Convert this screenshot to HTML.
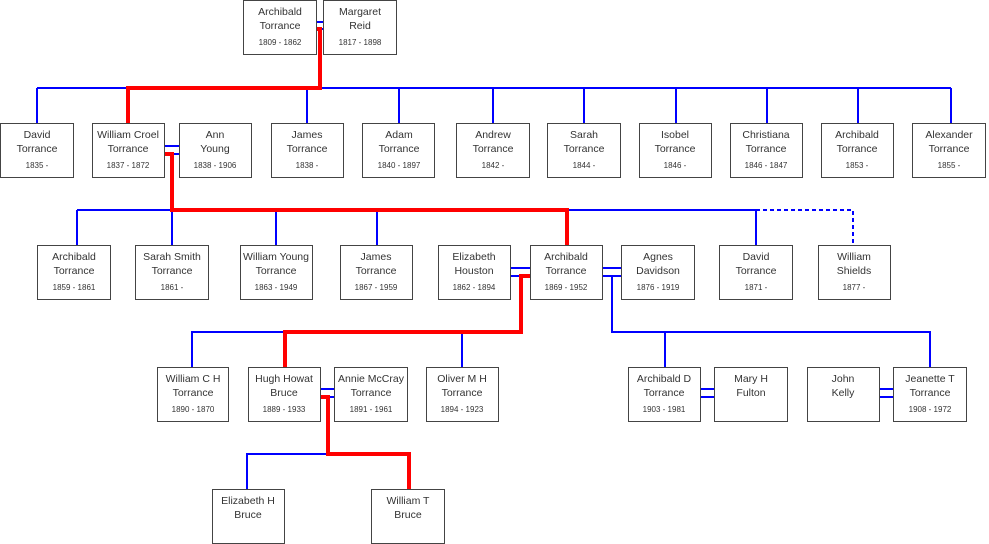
<!DOCTYPE html>
<html>
<head>
<meta charset="utf-8">
<style>
  html,body{margin:0;padding:0;background:#fff;}
  svg{display:block;}
  .b{fill:#fff;stroke:#444;stroke-width:1;}
  .n{font-family:"Liberation Sans",sans-serif;font-size:10.5px;fill:#333;text-anchor:middle;}
  .d{font-family:"Liberation Sans",sans-serif;font-size:8px;fill:#333;text-anchor:middle;}
  .bl{stroke:#0000ff;stroke-width:2;fill:none;}
  .rd{stroke:#ff0000;stroke-width:4;fill:none;}
</style>
</head>
<body>
<svg width="989" height="544" viewBox="0 0 989 544" xmlns="http://www.w3.org/2000/svg">
  <!-- blue connectors -->
  <g class="bl">
    <path d="M316 22H323M316 29H323"/>
    <path d="M37 88H951"/>
    <path d="M37 88V123M307 88V123M399 88V123M493 88V123M584 88V123M676 88V123M767 88V123M858 88V123M951 88V123"/>
    <path d="M164 146H179M164 154H179"/>
    <path d="M77 210H756"/>
    <path d="M77 210V245M172 210V245M276 210V245M377 210V245M756 210V245"/>
    <path d="M756 210H853V245" stroke-dasharray="4 3"/>
    <path d="M510 268H530M510 276H530"/>
    <path d="M602 268H621M602 276H621"/>
    <path d="M612 276V332H930V367M665 332V367"/>
    <path d="M192 367V332H462V367"/>
    <path d="M321 389H334M321 397H334"/>
    <path d="M247 489V454H328"/>
    <path d="M701 389H714M701 397H714"/>
    <path d="M879 389H893M879 397H893"/>
  </g>
  <!-- red lineage -->
  <g class="rd">
    <path d="M317 29H320V88H128V123"/>
    <path d="M165 154H172V210H567V245"/>
    <path d="M530 276H521V332H285V367"/>
    <path d="M321 397H328V454H409V489"/>
  </g>

  <!-- Row 1 -->
  <rect class="b" x="243.5" y="0.5" width="73" height="54"/>
  <text class="n" x="280" y="15">Archibald</text><text class="n" x="280" y="29">Torrance</text><text class="d" x="280" y="45">1809 - 1862</text>
  <rect class="b" x="323.5" y="0.5" width="73" height="54"/>
  <text class="n" x="360" y="15">Margaret</text><text class="n" x="360" y="29">Reid</text><text class="d" x="360" y="45">1817 - 1898</text>

  <!-- Row 2 -->
  <rect class="b" x="0.5" y="123.5" width="73" height="54"/>
  <text class="n" x="37" y="138">David</text><text class="n" x="37" y="152">Torrance</text><text class="d" x="37" y="168">1835 -</text>
  <rect class="b" x="92.5" y="123.5" width="72" height="54"/>
  <text class="n" x="128" y="138">William Croel</text><text class="n" x="128" y="152">Torrance</text><text class="d" x="128" y="168">1837 - 1872</text>
  <rect class="b" x="179.5" y="123.5" width="72" height="54"/>
  <text class="n" x="215" y="138">Ann</text><text class="n" x="215" y="152">Young</text><text class="d" x="215" y="168">1838 - 1906</text>
  <rect class="b" x="271.5" y="123.5" width="72" height="54"/>
  <text class="n" x="307" y="138">James</text><text class="n" x="307" y="152">Torrance</text><text class="d" x="307" y="168">1838 -</text>
  <rect class="b" x="362.5" y="123.5" width="72" height="54"/>
  <text class="n" x="399" y="138">Adam</text><text class="n" x="399" y="152">Torrance</text><text class="d" x="399" y="168">1840 - 1897</text>
  <rect class="b" x="456.5" y="123.5" width="73" height="54"/>
  <text class="n" x="493" y="138">Andrew</text><text class="n" x="493" y="152">Torrance</text><text class="d" x="493" y="168">1842 -</text>
  <rect class="b" x="547.5" y="123.5" width="73" height="54"/>
  <text class="n" x="584" y="138">Sarah</text><text class="n" x="584" y="152">Torrance</text><text class="d" x="584" y="168">1844 -</text>
  <rect class="b" x="639.5" y="123.5" width="72" height="54"/>
  <text class="n" x="675" y="138">Isobel</text><text class="n" x="675" y="152">Torrance</text><text class="d" x="675" y="168">1846 -</text>
  <rect class="b" x="730.5" y="123.5" width="72" height="54"/>
  <text class="n" x="766" y="138">Christiana</text><text class="n" x="766" y="152">Torrance</text><text class="d" x="766" y="168">1846 - 1847</text>
  <rect class="b" x="821.5" y="123.5" width="72" height="54"/>
  <text class="n" x="857" y="138">Archibald</text><text class="n" x="857" y="152">Torrance</text><text class="d" x="857" y="168">1853 -</text>
  <rect class="b" x="912.5" y="123.5" width="73" height="54"/>
  <text class="n" x="949" y="138">Alexander</text><text class="n" x="949" y="152">Torrance</text><text class="d" x="949" y="168">1855 -</text>

  <!-- Row 3 -->
  <rect class="b" x="37.5" y="245.5" width="73" height="54"/>
  <text class="n" x="74" y="260">Archibald</text><text class="n" x="74" y="274">Torrance</text><text class="d" x="74" y="290">1859 - 1861</text>
  <rect class="b" x="135.5" y="245.5" width="73" height="54"/>
  <text class="n" x="172" y="260">Sarah Smith</text><text class="n" x="172" y="274">Torrance</text><text class="d" x="172" y="290">1861 -</text>
  <rect class="b" x="240.5" y="245.5" width="72" height="54"/>
  <text class="n" x="276" y="260">William Young</text><text class="n" x="276" y="274">Torrance</text><text class="d" x="276" y="290">1863 - 1949</text>
  <rect class="b" x="340.5" y="245.5" width="72" height="54"/>
  <text class="n" x="376" y="260">James</text><text class="n" x="376" y="274">Torrance</text><text class="d" x="376" y="290">1867 - 1959</text>
  <rect class="b" x="438.5" y="245.5" width="72" height="54"/>
  <text class="n" x="474" y="260">Elizabeth</text><text class="n" x="474" y="274">Houston</text><text class="d" x="474" y="290">1862 - 1894</text>
  <rect class="b" x="530.5" y="245.5" width="72" height="54"/>
  <text class="n" x="566" y="260">Archibald</text><text class="n" x="566" y="274">Torrance</text><text class="d" x="566" y="290">1869 - 1952</text>
  <rect class="b" x="621.5" y="245.5" width="73" height="54"/>
  <text class="n" x="658" y="260">Agnes</text><text class="n" x="658" y="274">Davidson</text><text class="d" x="658" y="290">1876 - 1919</text>
  <rect class="b" x="719.5" y="245.5" width="73" height="54"/>
  <text class="n" x="756" y="260">David</text><text class="n" x="756" y="274">Torrance</text><text class="d" x="756" y="290">1871 -</text>
  <rect class="b" x="818.5" y="245.5" width="72" height="54"/>
  <text class="n" x="854" y="260">William</text><text class="n" x="854" y="274">Shields</text><text class="d" x="854" y="290">1877 -</text>

  <!-- Row 4 -->
  <rect class="b" x="157.5" y="367.5" width="71" height="54"/>
  <text class="n" x="193" y="382">William C H</text><text class="n" x="193" y="396">Torrance</text><text class="d" x="193" y="412">1890 - 1870</text>
  <rect class="b" x="248.5" y="367.5" width="72" height="54"/>
  <text class="n" x="284" y="382">Hugh Howat</text><text class="n" x="284" y="396">Bruce</text><text class="d" x="284" y="412">1889 - 1933</text>
  <rect class="b" x="334.5" y="367.5" width="73" height="54"/>
  <text class="n" x="371" y="382">Annie McCray</text><text class="n" x="371" y="396">Torrance</text><text class="d" x="371" y="412">1891 - 1961</text>
  <rect class="b" x="426.5" y="367.5" width="72" height="54"/>
  <text class="n" x="462" y="382">Oliver M H</text><text class="n" x="462" y="396">Torrance</text><text class="d" x="462" y="412">1894 - 1923</text>
  <rect class="b" x="628.5" y="367.5" width="72" height="54"/>
  <text class="n" x="664" y="382">Archibald D</text><text class="n" x="664" y="396">Torrance</text><text class="d" x="664" y="412">1903 - 1981</text>
  <rect class="b" x="714.5" y="367.5" width="73" height="54"/>
  <text class="n" x="751" y="382">Mary H</text><text class="n" x="751" y="396">Fulton</text>
  <rect class="b" x="807.5" y="367.5" width="72" height="54"/>
  <text class="n" x="843" y="382">John</text><text class="n" x="843" y="396">Kelly</text>
  <rect class="b" x="893.5" y="367.5" width="73" height="54"/>
  <text class="n" x="930" y="382">Jeanette T</text><text class="n" x="930" y="396">Torrance</text><text class="d" x="930" y="412">1908 - 1972</text>

  <!-- Row 5 -->
  <rect class="b" x="212.5" y="489.5" width="72" height="54"/>
  <text class="n" x="248" y="504">Elizabeth H</text><text class="n" x="248" y="518">Bruce</text>
  <rect class="b" x="371.5" y="489.5" width="73" height="54"/>
  <text class="n" x="408" y="504">William T</text><text class="n" x="408" y="518">Bruce</text>
</svg>
</body>
</html>
